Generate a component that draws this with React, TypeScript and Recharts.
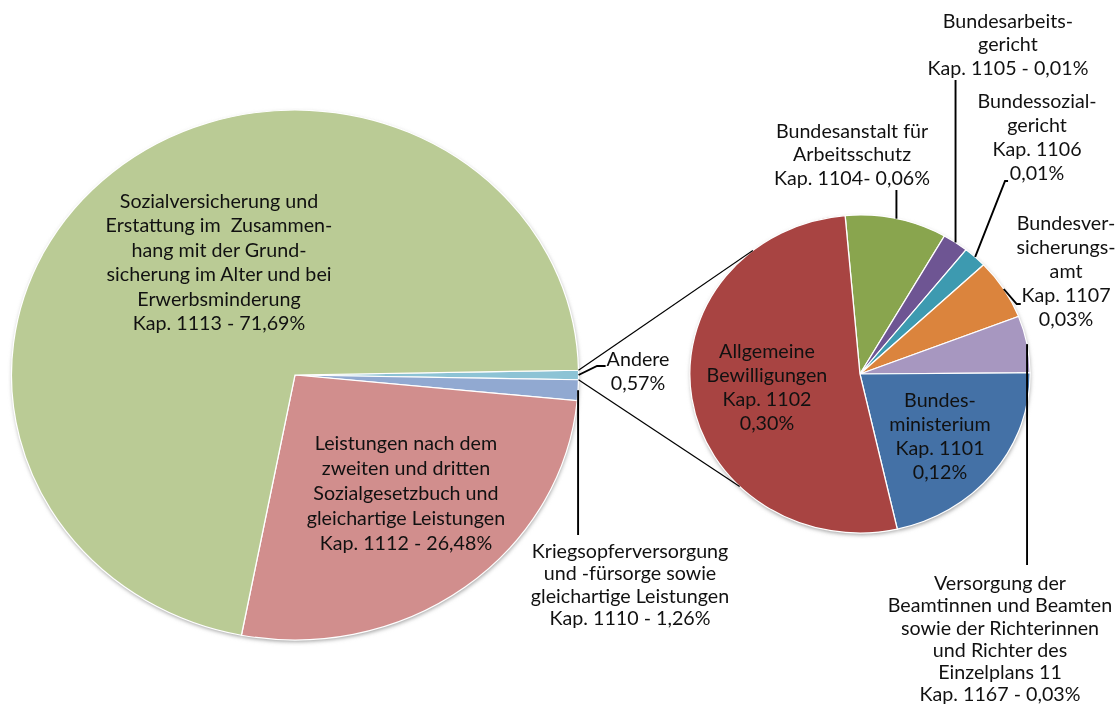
import React from "react";
import { PieChart, Pie, Cell } from "recharts";

// the reference picture is stretched horizontally, so the chart is drawn narrower and scaled
const S = 1.07;
const W = 1044;
const H = 709;
const FS = 18.4;

const MAIN = { cx: 275.7, cy: 375, r: 265 };
const SUB = { cx: 803.7, cy: 374, r: 159 };
// where the connector lines meet the second pie (degrees)
const CONNECT_ANGLES = [129, 225];

// main pie, clockwise from the "Andere" slice at 3 o'clock
const mainNames = ["Andere", "Kap. 1110", "Kap. 1112", "Kap. 1113"];
const mainValues = [0.57, 1.26, 26.48, 71.69];
const mainColors = ["#8DC3D5", "#91A9D1", "#D18E8D", "#BACB95"];
const mainLabels = [
  ["Andere", "0,57%"],
  ["Kriegsopferversorgung", "und -fürsorge sowie", "gleichartige Leistungen", "Kap. 1110 - 1,26%"],
  ["Leistungen nach dem", "zweiten und dritten", "Sozialgesetzbuch und", "gleichartige Leistungen", "Kap. 1112 - 26,48%"],
  [
    "Sozialversicherung und",
    "Erstattung im  Zusammen-",
    "hang mit der Grund-",
    "sicherung im Alter und bei",
    "Erwerbsminderung",
    "Kap. 1113 - 71,69%",
  ],
];

// breakdown of "Andere", clockwise from the top
const subNames = ["Kap. 1104", "Kap. 1105", "Kap. 1106", "Kap. 1107", "Kap. 1167", "Kap. 1101", "Kap. 1102"];
const subValues = [0.055, 0.014, 0.0127, 0.035, 0.033, 0.123, 0.297];
const subColors = ["#89A54E", "#6E5593", "#3D9AB0", "#DB843D", "#A797C0", "#4471A6", "#A84442"];
const subLabels = [
  ["Bundesanstalt für", "Arbeitsschutz", "Kap. 1104- 0,06%"],
  ["Bundesarbeits-", "gericht", "Kap. 1105 - 0,01%"],
  ["Bundessozial-", "gericht", "Kap. 1106", "0,01%"],
  ["Bundesver-", "sicherungs-", "amt", "Kap. 1107", "0,03%"],
  ["Versorgung der", "Beamtinnen und Beamten", "sowie der Richterinnen", "und Richter des", "Einzelplans 11", "Kap. 1167 - 0,03%"],
  ["Bundes-", "ministerium", "Kap. 1101", "0,12%"],
  ["Allgemeine", "Bewilligungen", "Kap. 1102", "0,30%"],
];

type Pos = { x: number; y: number; lh: number; leader?: (number | null)[][] };

const mainPos: Pos[] = [
  { x: 596.3, y: 366, lh: 24, leader: [[558, 366], [566, 366]] },
  { x: 588.8, y: 558, lh: 22.5, leader: [[null, 535]] },
  { x: 379.4, y: 450, lh: 25 },
  { x: 204.7, y: 208, lh: 24.5 },
];

const subPos: Pos[] = [
  { x: 796.3, y: 138, lh: 23.5, leader: [[null, 190]] },
  { x: 942, y: 28, lh: 23.5, leader: [[null, 80]] },
  { x: 969.2, y: 108, lh: 24, leader: [[939.3, 181], [942.1, 181]] },
  { x: 996.3, y: 230, lh: 24, leader: [[950.2, 304], [954, 304]] },
  { x: 934.6, y: 590, lh: 22.3, leader: [[null, 565]] },
  { x: 878.5, y: 406.7, lh: 24 },
  { x: 716.8, y: 358, lh: 24 },
];

const mainData = mainNames.map((name, i) => ({ name, value: mainValues[i] }));
const subData = subNames.map((name, i) => ({ name, value: subValues[i] }));

const RAD = Math.PI / 180;
const polar = (cx: number, cy: number, r: number, a: number) => [
  cx + r * Math.cos(-a * RAD),
  cy + r * Math.sin(-a * RAD),
];

const mainStart = (mainValues[0] / 100) * 180;

const makeLabel = (lines: string[][], layout: Pos[], withConnectors: boolean) => (props: any) => {
  const { cx, cy, midAngle, outerRadius, index, percent } = props;
  const pos = layout[index];
  const [sx, sy] = polar(cx, cy, outerRadius, midAngle);
  const pts = pos.leader ? [[sx, sy], ...pos.leader.map(([x, y]) => [x ?? sx, y as number])] : null;

  let connectors = null;
  if (withConnectors && index === 0) {
    const half = percent * 180;
    const a = polar(cx, cy, outerRadius, midAngle + half);
    const b = polar(cx, cy, outerRadius, midAngle - half);
    const a2 = polar(SUB.cx, SUB.cy, SUB.r, CONNECT_ANGLES[0]);
    const b2 = polar(SUB.cx, SUB.cy, SUB.r, CONNECT_ANGLES[1]);
    connectors = (
      <g>
        <line x1={a[0]} y1={a[1]} x2={a2[0]} y2={a2[1]} stroke="#000" strokeWidth={1.1} />
        <line x1={b[0]} y1={b[1]} x2={b2[0]} y2={b2[1]} stroke="#000" strokeWidth={1.1} />
      </g>
    );
  }

  return (
    <g key={`label-${index}`}>
      {connectors}
      {pts && (
        <polyline
          points={pts.map((p) => p.join(",")).join(" ")}
          fill="none"
          stroke="#000"
          strokeWidth={1.8}
        />
      )}
      <text
        x={pos.x}
        y={pos.y}
        textAnchor="middle"
        fill="#111"
        fontSize={FS}
        fontFamily="Lato, 'Open Sans', sans-serif"
        style={{ whiteSpace: "pre" }}
      >
        {lines[index].map((t, i) => (
          <tspan key={i} x={pos.x} dy={i === 0 ? 0 : pos.lh}>
            {t}
          </tspan>
        ))}
      </text>
    </g>
  );
};

export default function App() {
  return (
    <div
      style={{
        position: "absolute",
        left: 0,
        top: 0,
        width: 1117,
        height: H,
        overflow: "hidden",
        background: "#fff",
      }}
    >
      <style>{`.pie-shadow { filter: blur(1.6px); }`}</style>
      <div style={{ width: W, height: H, transform: `scaleX(${S})`, transformOrigin: "0 0" }}>
        <PieChart width={W} height={H} margin={{ top: 0, right: 0, bottom: 0, left: 0 }}>
          <Pie
            className="pie-shadow"
            data={mainData}
            dataKey="value"
            cx={MAIN.cx + 0.5}
            cy={MAIN.cy + 2}
            outerRadius={MAIN.r}
            startAngle={mainStart}
            endAngle={mainStart - 360}
            fill="#a6a6a6"
            stroke="none"
            isAnimationActive={false}
          />
          <Pie
            className="pie-shadow"
            data={subData}
            dataKey="value"
            cx={SUB.cx + 0.5}
            cy={SUB.cy + 2}
            outerRadius={SUB.r}
            startAngle={95}
            endAngle={-265}
            fill="#a6a6a6"
            stroke="none"
            isAnimationActive={false}
          />
          <Pie
            data={mainData}
            dataKey="value"
            cx={MAIN.cx}
            cy={MAIN.cy}
            outerRadius={MAIN.r}
            startAngle={mainStart}
            endAngle={mainStart - 360}
            stroke="#fff"
            strokeWidth={1.2}
            labelLine={false}
            label={makeLabel(mainLabels, mainPos, true)}
            isAnimationActive={false}
          >
            {mainData.map((d, i) => (
              <Cell key={d.name} fill={mainColors[i]} />
            ))}
          </Pie>
          <Pie
            data={subData}
            dataKey="value"
            cx={SUB.cx}
            cy={SUB.cy}
            outerRadius={SUB.r}
            startAngle={95}
            endAngle={-265}
            stroke="#fff"
            strokeWidth={1.2}
            labelLine={false}
            label={makeLabel(subLabels, subPos, false)}
            isAnimationActive={false}
          >
            {subData.map((d, i) => (
              <Cell key={d.name} fill={subColors[i]} />
            ))}
          </Pie>
        </PieChart>
      </div>
    </div>
  );
}
